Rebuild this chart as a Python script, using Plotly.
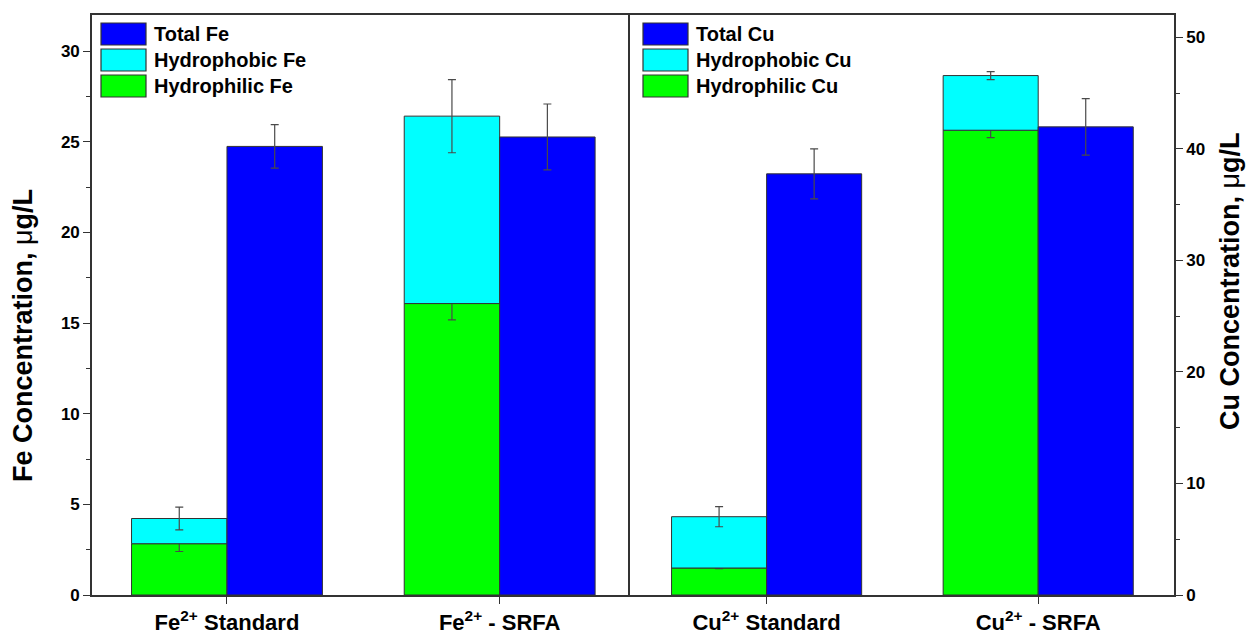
import plotly.graph_objects as go

# ---- data -------------------------------------------------------------
fe_labels = ["Fe<sup>2+</sup> Standard", "Fe<sup>2+</sup> - SRFA"]
fe_total = [24.75, 25.27]
fe_total_err = [1.20, 1.82]
fe_hydrophilic = [2.83, 16.08]
fe_hydrophilic_err = [0.43, 0.90]
fe_hydrophobic = [1.39, 10.34]
fe_hydrophobic_err = [0.63, 2.02]

cu_labels = ["Cu<sup>2+</sup> Standard", "Cu<sup>2+</sup> - SRFA"]
cu_total = [37.76, 41.97]
cu_total_err = [2.24, 2.54]
cu_hydrophilic = [2.42, 41.67]
cu_hydrophilic_err = [0.05, 0.66]
cu_hydrophobic = [4.60, 4.90]
cu_hydrophobic_err = [0.90, 0.36]

fe_legend = ["Total Fe", "Hydrophobic Fe", "Hydrophilic Fe"]
cu_legend = ["Total Cu", "Hydrophobic Cu", "Hydrophilic Cu"]

# ---- style ------------------------------------------------------------
W, H = 1246, 635
FONT = "Liberation Sans, Arial, Helvetica, sans-serif"
BLUE, CYAN, GREEN = "#0000FF", "#00FFFF", "#00FF00"
EDGE = "#333333"
ERR = "#4a4a4a"
BAR_W = 0.35
pos = [1, 2]


def px(x):
    return x / W


def py(y):
    return 1 - y / H


def err(vals):
    return dict(type="data", array=vals, visible=True, color=ERR,
                thickness=1.2, width=4)


def bars(vals, errs, color, xa, ya, offset, base=None):
    return go.Bar(
        x=pos, y=vals, base=base, width=BAR_W, offset=offset,
        marker=dict(color=color, line=dict(color=EDGE, width=1)),
        error_y=err(errs), xaxis=xa, yaxis=ya, showlegend=False,
        hoverinfo="skip",
    )


fig = go.Figure()
# Fe panel
fig.add_trace(bars(fe_hydrophilic, fe_hydrophilic_err, GREEN, "x", "y", -BAR_W))
fig.add_trace(bars(fe_hydrophobic, fe_hydrophobic_err, CYAN, "x", "y", -BAR_W,
                   base=fe_hydrophilic))
fig.add_trace(bars(fe_total, fe_total_err, BLUE, "x", "y", 0))
# Cu panel
fig.add_trace(bars(cu_hydrophilic, cu_hydrophilic_err, GREEN, "x2", "y2", -BAR_W))
fig.add_trace(bars(cu_hydrophobic, cu_hydrophobic_err, CYAN, "x2", "y2", -BAR_W,
                   base=cu_hydrophilic))
fig.add_trace(bars(cu_total, cu_total_err, BLUE, "x2", "y2", 0))

axis_common = dict(
    showline=True, linecolor=EDGE, linewidth=1.6, mirror=True,
    showgrid=False, zeroline=False, ticks="outside", tickcolor=EDGE,
    tickwidth=1.4, automargin=False,
)
xtick_font = dict(family=FONT, size=22, color="#000", weight="bold")
ytick_font = dict(family=FONT, size=17, color="#000", weight="bold")
ydom = [py(595), py(15)]

fig.update_layout(
    width=W, height=H,
    margin=dict(l=0, r=0, t=0, b=0),
    paper_bgcolor="white", plot_bgcolor="white",
    barmode="overlay",
    font=dict(family=FONT, color="#000"),
    xaxis=dict(axis_common, domain=[px(92), px(630)], range=[0.505, 2.478],
               tickvals=pos, ticktext=fe_labels, ticklen=7,
               tickfont=xtick_font, anchor="y"),
    # the shared divider line is drawn by the Cu panel's mirrored axis
    yaxis=dict(axis_common, mirror=False, domain=ydom, range=[0, 32],
               tickvals=[0, 5, 10, 15, 20, 25, 30],
               ticklen=7, tickfont=ytick_font, anchor="x",
               minor=dict(dtick=2.5, tick0=0, ticks="outside", ticklen=4,
                          tickcolor=EDGE, tickwidth=1.2)),
    xaxis2=dict(axis_common, domain=[px(630), px(1174)], range=[0.497, 2.5],
                tickvals=pos, ticktext=cu_labels, ticklen=7,
                tickfont=xtick_font, anchor="y2"),
    yaxis2=dict(axis_common, domain=ydom, range=[0, 52], tickvals=[0, 10, 20, 30, 40, 50],
                ticklen=7, tickfont=ytick_font, anchor="x2", side="right",
                minor=dict(dtick=5, tick0=0, ticks="outside", ticklen=4,
                           tickcolor=EDGE, tickwidth=1.2)),
)

# axis titles
title_font = dict(family=FONT, size=27, color="#000", weight="bold")
fig.add_annotation(text="Fe Concentration, <span style='font-weight:normal'>\u03bc</span>g/L",
                   x=px(23), y=py(336), xref="paper", yref="paper",
                   textangle=-90, showarrow=False, font=title_font,
                   xanchor="center", yanchor="middle")
fig.add_annotation(text="Cu Concentration, <span style='font-weight:normal'>\u03bc</span>g/L",
                   x=px(1230), y=py(281), xref="paper", yref="paper",
                   textangle=-90, showarrow=False, font=title_font,
                   xanchor="center", yanchor="middle")

# hand-drawn legends with large swatches
legend_font = dict(family=FONT, size=20, color="#000", weight="bold")
swatch_colors = [BLUE, CYAN, GREEN]
rows = [(23, 45), (49, 71), (75, 97)]
for left, names in ((101, fe_legend), (643, cu_legend)):
    for (top, bottom), color, name in zip(rows, swatch_colors, names):
        fig.add_shape(type="rect", xref="paper", yref="paper",
                      x0=px(left), x1=px(left + 45), y0=py(bottom), y1=py(top),
                      fillcolor=color, line=dict(color=EDGE, width=1.2))
        fig.add_annotation(text=name, x=px(left + 51), y=py((top + bottom) / 2),
                           xref="paper", yref="paper", showarrow=False,
                           xanchor="left", yanchor="middle", font=legend_font)

fig.write_html("out.html")
